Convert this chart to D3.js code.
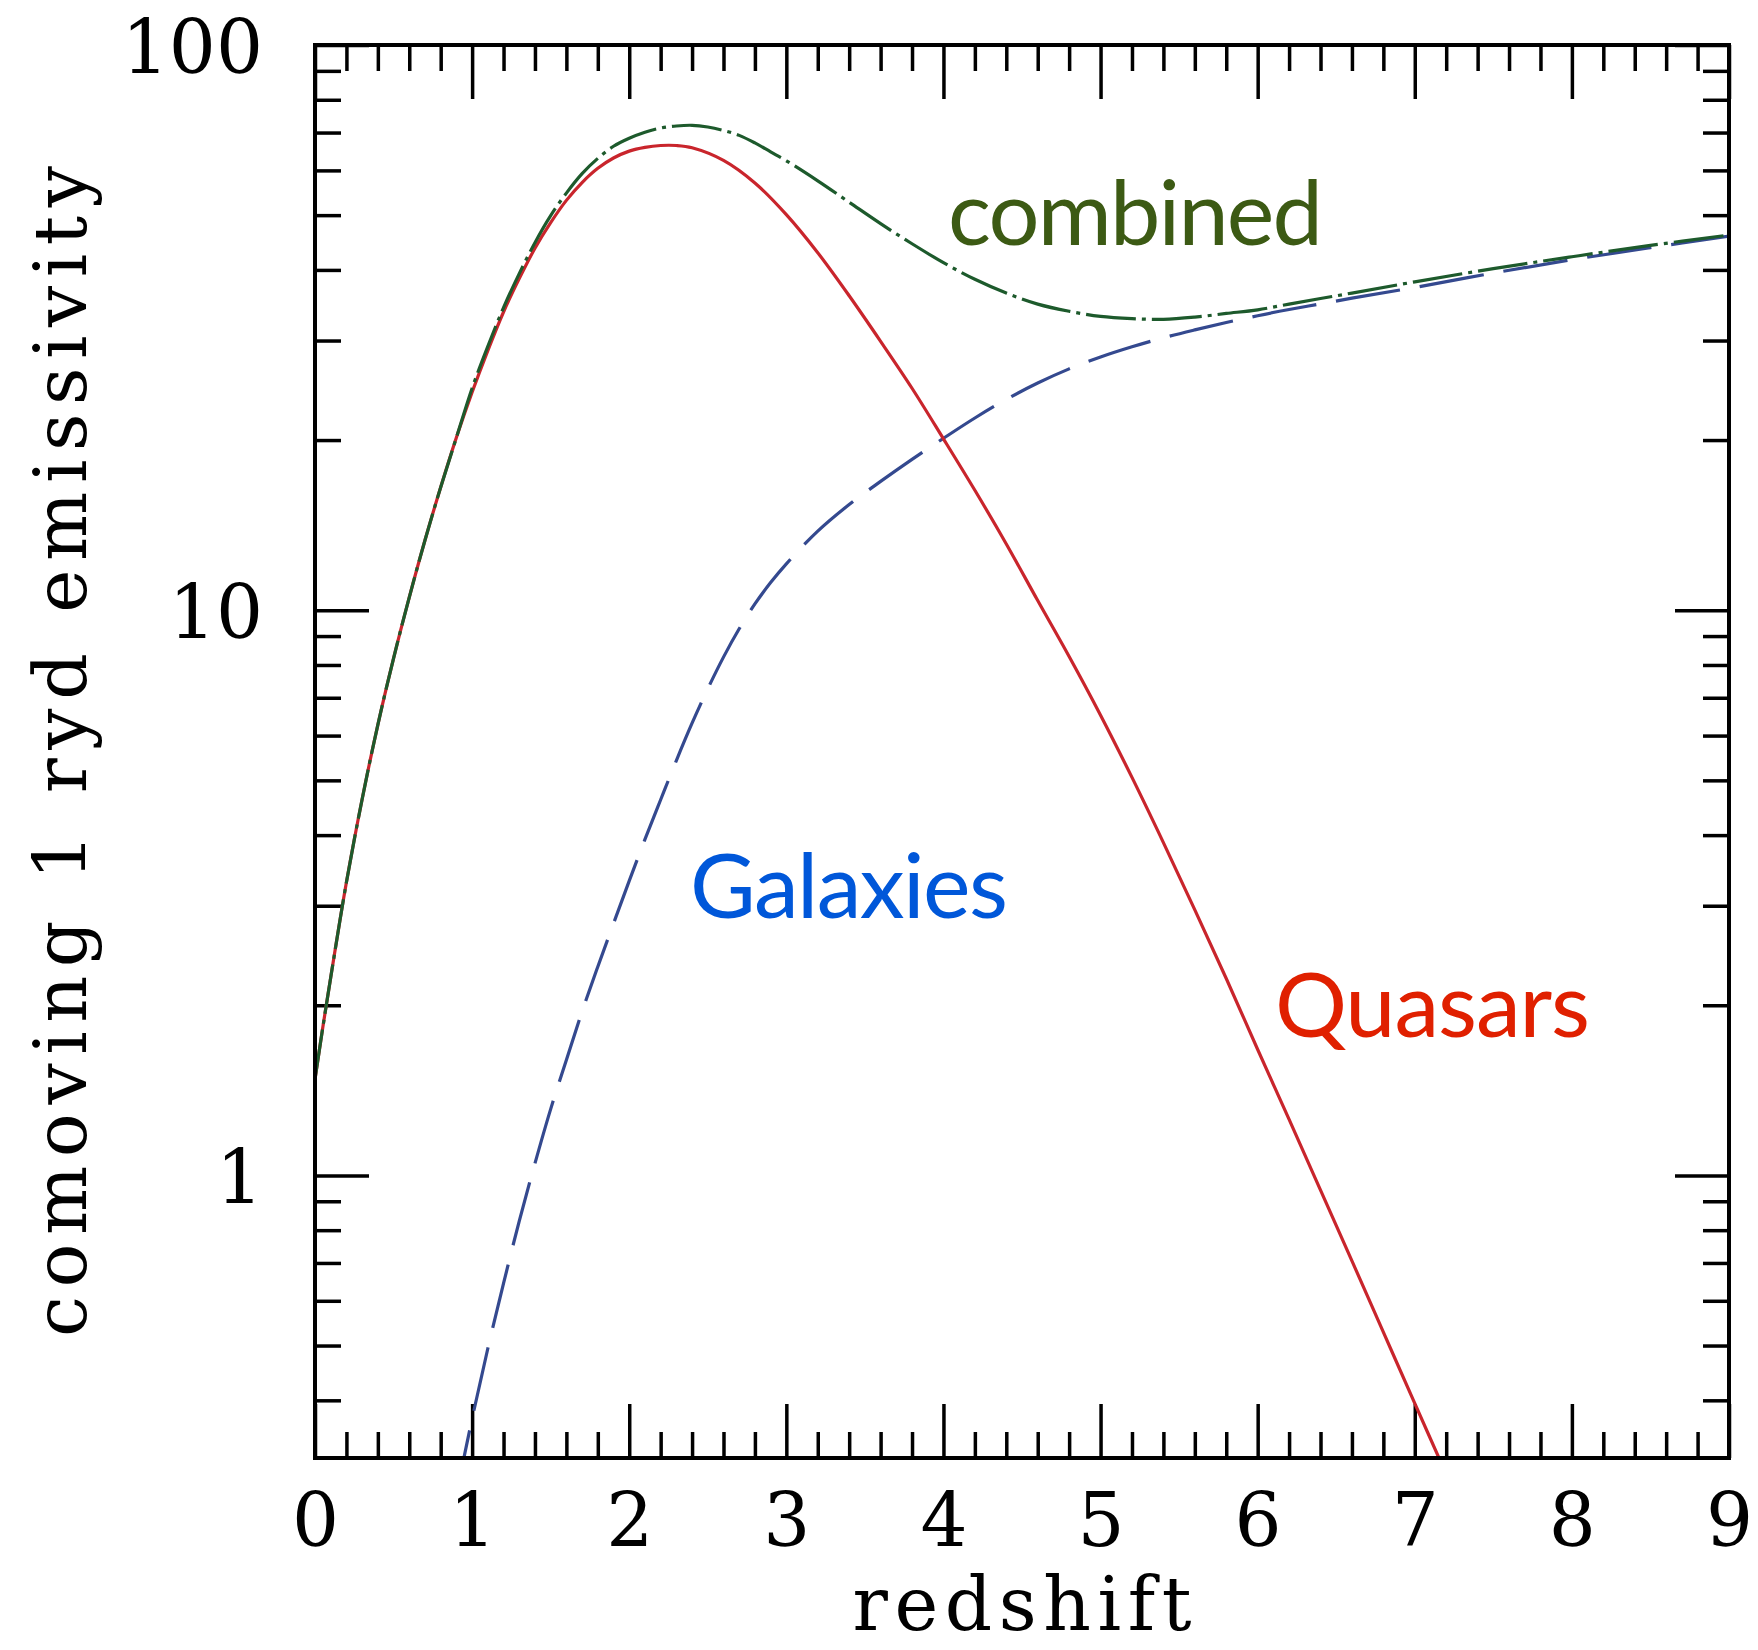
<!DOCTYPE html>
<html>
<head>
<meta charset="utf-8">
<script src="https://cdn.jsdelivr.net/npm/d3@7"></script>
<style>
  body { margin: 0; background: #ffffff; }
  svg { display: block; }
</style>
</head>
<body>
<svg id="chart" width="1758" height="1650"></svg>
<script>
// Comoving 1 Ryd emissivity versus redshift: quasars, galaxies and their sum.

const redshiftQuasars = [0, 0.05, 0.1, 0.2, 0.3, 0.4, 0.5, 0.6, 0.7, 0.8, 0.9, 1.0, 1.1, 1.2, 1.3, 1.4, 1.5, 1.6, 1.7, 1.8, 1.9, 2.0, 2.1, 2.2, 2.3, 2.4, 2.6, 2.8, 3.0, 3.2, 3.4, 3.6, 3.8, 4.0, 4.2, 4.4, 4.6, 4.8, 5.0, 5.2, 5.4, 5.6, 5.8, 6.0, 6.2, 6.4, 6.6, 6.8, 7.0, 7.2];
const quasars = [1.48, 1.83, 2.24, 3.30, 4.63, 6.27, 8.22, 10.54, 13.3, 16.5, 20.2, 24.3, 28.8, 33.7, 38.6, 43.7, 48.5, 53.1, 57.1, 60.5, 63.1, 64.9, 65.9, 66.4, 66.4, 65.8, 62.5, 57.0, 50.1, 42.9, 36.0, 29.9, 24.7, 20.1, 16.3, 13.1, 10.4, 8.28, 6.52, 5.06, 3.88, 2.95, 2.23, 1.67, 1.256, 0.942, 0.706, 0.528, 0.395, 0.296];

const redshiftGalaxies = [0.9, 1.0, 1.1, 1.2, 1.3, 1.4, 1.5, 1.6, 1.7, 1.8, 1.9, 2.0, 2.1, 2.2, 2.3, 2.4, 2.5, 2.6, 2.7, 2.8, 2.9, 3.0, 3.2, 3.4, 3.6, 3.8, 4.0, 4.2, 4.4, 4.6, 4.8, 5.0, 5.2, 5.4, 5.6, 5.8, 6.0, 6.2, 6.4, 6.6, 7.0, 7.5, 8.0, 8.5, 9.0];
const galaxies = [0.273, 0.371, 0.494, 0.644, 0.830, 1.05, 1.31, 1.60, 1.95, 2.34, 2.79, 3.32, 3.93, 4.62, 5.42, 6.31, 7.26, 8.26, 9.27, 10.26, 11.19, 12.08, 13.80, 15.38, 16.90, 18.49, 20.14, 21.88, 23.60, 25.23, 26.73, 28.05, 29.24, 30.34, 31.33, 32.28, 33.19, 34.04, 34.83, 35.65, 37.24, 39.5, 41.7, 43.8, 45.9];

const redshiftCombined = [0, 0.05, 0.1, 0.2, 0.3, 0.4, 0.5, 0.6, 0.7, 0.8, 0.9, 1.0, 1.1, 1.2, 1.3, 1.4, 1.5, 1.6, 1.7, 1.8, 1.9, 2.0, 2.1, 2.2, 2.3, 2.4, 2.5, 2.6, 2.7, 2.8, 2.9, 3.0, 3.2, 3.4, 3.6, 3.8, 4.0, 4.2, 4.4, 4.6, 4.8, 5.0, 5.2, 5.4, 5.6, 5.8, 6.0, 6.2, 6.4, 6.6, 7.0, 7.5, 8.0, 8.5, 9.0];
const combined = [1.48, 1.83, 2.24, 3.30, 4.63, 6.27, 8.22, 10.54, 13.3, 16.5, 20.2, 24.7, 29.3, 34.3, 39.4, 44.7, 49.9, 54.7, 59.2, 63.0, 66.2, 68.4, 70.1, 71.3, 71.9, 72.1, 71.6, 70.6, 69.2, 67.1, 64.7, 62.4, 57.5, 52.7, 48.3, 44.5, 41.2, 38.5, 36.4, 34.8, 33.8, 33.1, 32.8, 32.7, 33.0, 33.5, 34.0, 34.8, 35.6, 36.4, 38.1, 40.2, 42.2, 44.2, 46.1];

const xTickLabels = [0, 1, 2, 3, 4, 5, 6, 7, 8, 9];
const yTickLabels = [1, 10, 100];
const yMinorTicks = [0.4, 0.5, 0.6, 0.7, 0.8, 0.9, 2, 3, 4, 5, 6, 7, 8, 9, 20, 30, 40, 50, 60, 70, 80, 90];

const xTitle = "redshift";
const yTitle = "comoving 1 ryd emissivity";
const seriesNames = ["combined", "Galaxies", "Quasars"];

// ---- layout ----
const plot = { left: 315, right: 1729, top: 45, bottom: 1458 };
const majorLen = 54, minorLen = 26;
const serif = "'DejaVu Serif', 'Liberation Serif', serif";
const sans = "Lato, 'Open Sans', 'Noto Sans', sans-serif";

const svg = d3.select("#chart");

const x = d3.scaleLinear().domain([0, 9]).range([plot.left, plot.right]);
const y = d3.scaleLog().domain([Math.pow(10, -0.5), 100]).range([plot.bottom, plot.top]);

// minor x ticks every 0.2 between the integer ticks
const xMinor = x.ticks(45).filter(v => Math.abs(v - Math.round(v)) > 1e-6);

svg.append("defs").append("clipPath").attr("id", "plot-clip")
  .append("rect")
  .attr("x", plot.left).attr("y", plot.top)
  .attr("width", plot.right - plot.left).attr("height", plot.bottom - plot.top);

// ---- axes (ticks point inward on all four sides) ----
function styleAxis(g) {
  g.select(".domain").remove();
  g.selectAll(".tick line").attr("stroke", "#000").attr("stroke-width", 3.5);
}

// bottom
svg.append("g").attr("transform", `translate(0,${plot.bottom})`)
  .call(d3.axisBottom(x).tickValues(xTickLabels).tickSize(-majorLen).tickPadding(35).tickFormat(d3.format("d")))
  .call(styleAxis)
  .call(g => g.selectAll("text").attr("font-family", serif).attr("font-size", 74).attr("fill", "#000"));
svg.append("g").attr("transform", `translate(0,${plot.bottom})`)
  .call(d3.axisBottom(x).tickValues(xMinor).tickSize(-minorLen).tickFormat(""))
  .call(styleAxis);

// top
svg.append("g").attr("transform", `translate(0,${plot.top})`)
  .call(d3.axisTop(x).tickValues(xTickLabels).tickSize(-majorLen).tickFormat(""))
  .call(styleAxis);
svg.append("g").attr("transform", `translate(0,${plot.top})`)
  .call(d3.axisTop(x).tickValues(xMinor).tickSize(-minorLen).tickFormat(""))
  .call(styleAxis);

// left
svg.append("g").attr("transform", `translate(${plot.left},0)`)
  .call(d3.axisLeft(y).tickValues(yTickLabels).tickSize(-majorLen).tickPadding(52).tickFormat(d3.format("d")))
  .call(styleAxis)
  .call(g => g.selectAll("text").attr("font-family", serif).attr("font-size", 74).attr("fill", "#000").attr("dy", "0.37em"));
svg.append("g").attr("transform", `translate(${plot.left},0)`)
  .call(d3.axisLeft(y).tickValues(yMinorTicks).tickSize(-minorLen).tickFormat(""))
  .call(styleAxis);

// right
svg.append("g").attr("transform", `translate(${plot.right},0)`)
  .call(d3.axisRight(y).tickValues(yTickLabels).tickSize(-majorLen).tickFormat(""))
  .call(styleAxis);
svg.append("g").attr("transform", `translate(${plot.right},0)`)
  .call(d3.axisRight(y).tickValues(yMinorTicks).tickSize(-minorLen).tickFormat(""))
  .call(styleAxis);

// ---- curves ----
const line = d3.line()
  .x(d => x(d[0]))
  .y(d => y(d[1]))
  .curve(d3.curveCatmullRom.alpha(0.5));

const curves = svg.append("g").attr("clip-path", "url(#plot-clip)");

curves.append("path")
  .datum(d3.zip(redshiftGalaxies, galaxies))
  .attr("d", line)
  .attr("fill", "none")
  .attr("stroke", "#34498f")
  .attr("stroke-width", 3.2)
  .attr("stroke-dasharray", "65 20");

curves.append("path")
  .datum(d3.zip(redshiftQuasars, quasars))
  .attr("d", line)
  .attr("fill", "none")
  .attr("stroke", "#c9252c")
  .attr("stroke-width", 3.2);

curves.append("path")
  .datum(d3.zip(redshiftCombined, combined))
  .attr("d", line)
  .attr("fill", "none")
  .attr("stroke", "#1d5a2c")
  .attr("stroke-width", 3.2)
  .attr("stroke-dasharray", "50 6 4 6");

// ---- frame ----
svg.append("rect")
  .attr("x", plot.left).attr("y", plot.top)
  .attr("width", plot.right - plot.left).attr("height", plot.bottom - plot.top)
  .attr("fill", "none").attr("stroke", "#000").attr("stroke-width", 4);

// ---- axis titles ----
svg.append("text")
  .attr("x", (plot.left + plot.right) / 2).attr("y", 1630)
  .attr("text-anchor", "middle")
  .attr("font-family", serif).attr("font-size", 74)
  .attr("textLength", 339).attr("lengthAdjust", "spacing")
  .text(xTitle);

svg.append("text")
  .attr("transform", `translate(86,${(plot.top + plot.bottom) / 2}) rotate(-90)`)
  .attr("text-anchor", "middle")
  .attr("font-family", serif).attr("font-size", 73)
  .attr("textLength", 1171).attr("lengthAdjust", "spacing")
  .text(yTitle);

// ---- series labels ----
const labelStyle = [
  { text: seriesNames[0], x: 948, y: 245, w: 375, color: "#3c5a14" },
  { text: seriesNames[1], x: 690, y: 918, w: 318, color: "#0057d9" },
  { text: seriesNames[2], x: 1275, y: 1037, w: 315, color: "#e02000" }
];
svg.append("g").selectAll("text")
  .data(labelStyle)
  .join("text")
  .attr("x", d => d.x).attr("y", d => d.y)
  .attr("font-family", sans).attr("font-size", 90)
  .attr("textLength", d => d.w).attr("lengthAdjust", "spacing")
  .attr("fill", d => d.color)
  .text(d => d.text);
</script>
</body>
</html>
